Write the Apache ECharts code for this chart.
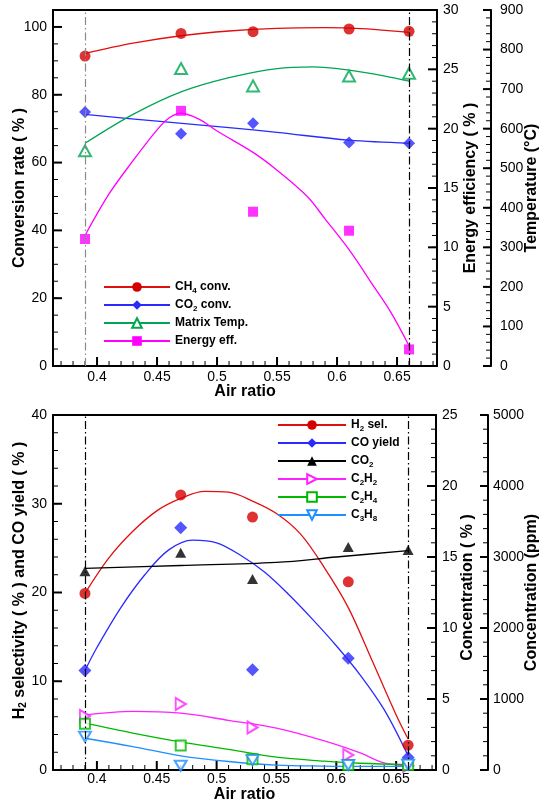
<!DOCTYPE html>
<html>
<head>
<meta charset="utf-8">
<script src="https://cdn.jsdelivr.net/npm/echarts@6/dist/echarts.min.js"></script>
<style>
  html, body { margin: 0; padding: 0; background: #fff; }
  #chart { width: 542px; height: 808px; }
</style>
</head>
<body>
<div id="chart"></div>
<script>
// ---------- measured points ----------
const airRatio = [0.39, 0.47, 0.53, 0.61, 0.66];

// upper panel
const ch4Conv    = [91.4, 98.1, 98.6, 99.4, 98.7];   // %
const co2Conv    = [74.9, 68.5, 71.6, 65.9, 65.7];   // %
const matrixTemp = [544, 752, 708, 733, 740];        // °C
const energyEff  = [10.7, 21.5, 13.0, 11.4, 1.4];    // %

// lower panel
const h2Sel   = [19.9, 31.0, 28.5, 21.2, 2.8];       // %
const coYield = [11.2, 27.3, 11.3, 12.6, 1.4];       // %
const co2Conc = [14.0, 15.3, 13.45, 15.7, 15.5];     // %
const c2h2Ppm = [760, 930, 600, 210, 60];            // ppm
const c2h4Ppm = [650, 345, 150, 70, 70];             // ppm
const c3h8Ppm = [470, 60, 140, 70, 75];              // ppm

// ---------- fitted trend curves (x, y pairs) ----------
const ch4FitX = [0.39, 0.43, 0.47, 0.51, 0.55, 0.59, 0.62, 0.66];
const ch4FitY = [92.2, 95.2, 97.4, 98.8, 99.6, 99.8, 99.5, 98.4];
const co2FitX = [0.39, 0.45, 0.51, 0.55, 0.61, 0.66];
const co2FitY = [74.2, 72.2, 70.3, 68.9, 66.6, 65.7];
const tempFitX = [0.39, 0.43, 0.47, 0.51, 0.55, 0.58, 0.61, 0.64, 0.66];
const tempFitY = [563, 636, 693, 729, 752, 756, 748, 733, 720];
const effFitX = [0.39, 0.41, 0.43, 0.45, 0.46, 0.47, 0.485, 0.50, 0.53, 0.55, 0.575, 0.59, 0.61, 0.63, 0.645, 0.66];
const effFitY = [11.0, 14.5, 17.3, 19.9, 20.9, 21.3, 20.8, 19.8, 18.0, 16.5, 14.3, 12.4, 9.8, 6.8, 4.5, 1.7];

const h2FitX = [0.39, 0.41, 0.43, 0.45, 0.47, 0.49, 0.51, 0.53, 0.55, 0.57, 0.59, 0.61, 0.63, 0.65, 0.66];
const h2FitY = [19.9, 23.9, 26.9, 29.2, 30.6, 31.4, 31.3, 30.3, 28.9, 26.6, 22.8, 18.3, 12.3, 6.2, 3.5];
const coFitX = [0.39, 0.40, 0.42, 0.44, 0.46, 0.48, 0.50, 0.52, 0.54, 0.56, 0.58, 0.60, 0.62, 0.64, 0.66];
const coFitY = [11.2, 13.8, 18.3, 22.0, 24.8, 25.9, 25.6, 24.2, 22.3, 19.8, 17.0, 14.0, 10.7, 6.8, 1.6];
const co2ConcFitX = [0.39, 0.47, 0.55, 0.60, 0.66];
const co2ConcFitY = [14.2, 14.4, 14.62, 15.0, 15.45];
const c2h2FitX = [0.39, 0.43, 0.47, 0.51, 0.55, 0.59, 0.62, 0.64, 0.66];
const c2h2FitY = [775, 825, 800, 700, 590, 410, 240, 100, 60];
const c2h4FitX = [0.39, 0.43, 0.47, 0.51, 0.55, 0.59, 0.62, 0.66];
const c2h4FitY = [660, 520, 395, 290, 180, 125, 95, 75];
const c3h8FitX = [0.39, 0.43, 0.47, 0.51, 0.55, 0.59, 0.62, 0.66];
const c3h8FitY = [447, 330, 200, 120, 70, 55, 50, 50];

// ---------- axis ticks ----------
const xMajorTicks = [0.4, 0.45, 0.5, 0.55, 0.6, 0.65];
const xMinorTicks = [0.37, 0.38, 0.39, 0.41, 0.42, 0.43, 0.44, 0.46, 0.47, 0.48, 0.49,
                     0.51, 0.52, 0.53, 0.54, 0.56, 0.57, 0.58, 0.59, 0.61, 0.62, 0.63,
                     0.64, 0.66, 0.67, 0.68];
const xRange = [0.3633, 0.6833];

// ---------- styling helpers ----------
const FONT = '"Liberation Sans", Arial, sans-serif';
const nameStyle = {
  fontFamily: FONT, fontWeight: 'bold', fontSize: 16, color: '#000',
  rich: {
    t: { fontFamily: FONT, fontWeight: 'bold', fontSize: 16, color: '#000' },
    s: { fontFamily: FONT, fontWeight: 'bold', fontSize: 10, color: '#000', verticalAlign: 'bottom', lineHeight: 12 }
  }
};

function steps(from, to, step) {
  const out = [];
  const n = Math.round((to - from) / step);
  for (let i = 0; i <= n; i++) out.push(+(from + i * step).toFixed(6));
  return out;
}

function xAxisMain(gridIndex, labelMargin, nameGap) {
  return {
    type: 'value', gridIndex, min: xRange[0], max: xRange[1], position: 'bottom',
    name: 'Air ratio', nameLocation: 'middle', nameGap, nameMoveOverlap: false,
    nameTextStyle: nameStyle,
    axisLine: { show: true, onZero: false, lineStyle: { color: '#000', width: 2 } },
    axisTick: { show: false },
    axisLabel: { show: true, customValues: xMajorTicks, margin: labelMargin,
                 fontFamily: FONT, fontSize: 14, color: '#000', formatter: v => String(v) },
    splitLine: { show: false }
  };
}

// plain line closing the top of each frame
function frameTop(gridIndex) {
  return {
    type: 'value', gridIndex, min: xRange[0], max: xRange[1], position: 'top',
    axisLine: { show: true, onZero: false, lineStyle: { color: '#000', width: 2 } },
    axisTick: { show: false }, axisLabel: { show: false }, splitLine: { show: false }
  };
}

function yAxisMain(o) {
  return {
    type: 'value', gridIndex: o.grid, position: o.position, offset: o.offset || 0,
    min: o.min, max: o.max, interval: o.interval, splitLine: { show: false },
    name: o.name, nameLocation: 'middle', nameGap: o.nameGap, nameMoveOverlap: false,
    nameTextStyle: Object.assign({}, nameStyle, o.namePadding ? { padding: o.namePadding } : {}),
    axisLine: { show: true, onZero: false, lineStyle: { color: '#000', width: 2 } },
    axisTick: { show: false },
    axisLabel: { show: true, margin: o.labelMargin, fontFamily: FONT, fontSize: 14, color: '#000',
                 showMaxLabel: o.hideMax ? false : null, formatter: v => String(v) }
  };
}

// inward tick marks, placed through the axes' own coordinate mapping
// side: 'bottom' (x ticks), 'left' or 'right' (y ticks); shift = axis offset in px
function tickMarks(xIdx, yIdx, side, values, len, width, shift, anchor) {
  const data = side === 'bottom' ? values.map(v => [v, anchor]) : values.map(v => [anchor, v]);
  return {
    type: 'custom', xAxisIndex: xIdx, yAxisIndex: yIdx, data, silent: true, z: 1, clip: false,
    renderItem(params, api) {
      const p = api.coord([api.value(0), api.value(1)]);
      let shape;
      if (side === 'bottom') shape = { x1: p[0], y1: p[1], x2: p[0], y2: p[1] - len };
      else if (side === 'left') shape = { x1: p[0], y1: p[1], x2: p[0] + len, y2: p[1] };
      else shape = { x1: p[0] + shift, y1: p[1], x2: p[0] + shift - len, y2: p[1] };
      return { type: 'line', shape, style: { stroke: '#000', lineWidth: width } };
    }
  };
}

function pts(ys) { return airRatio.map((x, i) => [x, ys[i]]); }
function curve(xs, ys) { return xs.map((x, i) => [x, ys[i]]); }

// one fitted curve (carries the legend entry) plus its measured markers
function seriesPair(name, fit, values, xIdx, yIdx, s, extra) {
  const itemStyle = s.hollow
    ? { color: '#fff', borderColor: s.color, borderWidth: 2 }
    : { color: s.color, borderWidth: 0 };
  const line = Object.assign({
    type: 'line', name, xAxisIndex: xIdx, yAxisIndex: yIdx, data: fit,
    smooth: 0.35, showSymbol: false, symbol: s.symbol, symbolRotate: s.rotate || 0,
    lineStyle: { color: s.line || s.color, width: 1.3 }, itemStyle, silent: true, z: 2
  }, extra || {});
  const scatter = {
    type: 'scatter', xAxisIndex: xIdx, yAxisIndex: yIdx, data: pts(values),
    symbol: s.symbol, symbolSize: s.size, symbolRotate: s.rotate || 0,
    itemStyle, silent: true, z: 3
  };
  return [line, scatter];
}

function dashDot(x, color) {
  return { xAxis: x, lineStyle: { color, type: [8, 3, 1.5, 3], width: 1.2 } };
}

const legendText = {
  'CH4 conv.': '{n|CH}{s|4}{n| conv.}',
  'CO2 conv.': '{n|CO}{s|2}{n| conv.}',
  'Matrix Temp.': '{n|Matrix Temp.}',
  'Energy eff.': '{n|Energy eff.}',
  'H2 sel.': '{n|H}{s|2}{n| sel.}',
  'CO yield': '{n|CO yield}',
  'CO2': '{n|CO}{s|2}',
  'C2H2': '{n|C}{s|2}{n|H}{s|2}',
  'C2H4': '{n|C}{s|2}{n|H}{s|4}',
  'C3H8': '{n|C}{s|3}{n|H}{s|8}'
};
const legendTextStyle = {
  fontFamily: FONT, fontWeight: 'bold', fontSize: 12, color: '#000', lineHeight: 16,
  rich: {
    n: { fontFamily: FONT, fontWeight: 'bold', fontSize: 12, color: '#000', lineHeight: 16 },
    s: { fontFamily: FONT, fontWeight: 'bold', fontSize: 8, color: '#000', lineHeight: 9, verticalAlign: 'bottom' }
  }
};

const RED = '#d40000', BLUE = '#2a2aff', GREEN = '#00a651', MAGENTA = '#ff00ff';
const GREEN2 = '#00b800', SKY = '#1e8fff', PINK = '#ff22ff';

// axis index map: xAxis 0 = upper, 1 = lower; yAxis 0 conv, 1 energy, 2 temp, 3 H2/CO, 4 conc %, 5 ppm
const chart = echarts.init(document.getElementById('chart'), null, { renderer: 'canvas' });

const series = [].concat(
  // upper panel
  seriesPair('CH4 conv.', curve(ch4FitX, ch4FitY), ch4Conv, 0, 0,
    { symbol: 'circle', size: 11, color: RED, line: '#e01010' },
    { markLine: { symbol: 'none', silent: true, label: { show: false },
                  data: [dashDot(airRatio[0], '#8a8a8a'), dashDot(airRatio[4], '#000')] } }),
  seriesPair('CO2 conv.', curve(co2FitX, co2FitY), co2Conv, 0, 0,
    { symbol: 'diamond', size: 12, color: BLUE }),
  seriesPair('Matrix Temp.', curve(tempFitX, tempFitY), matrixTemp, 0, 2,
    { symbol: 'triangle', size: [12, 11], color: GREEN, hollow: true }),
  seriesPair('Energy eff.', curve(effFitX, effFitY), energyEff, 0, 1,
    { symbol: 'rect', size: 10, color: MAGENTA }),
  // lower panel
  seriesPair('H2 sel.', curve(h2FitX, h2FitY), h2Sel, 1, 3,
    { symbol: 'circle', size: 11, color: RED, line: '#e01010' },
    { markLine: { symbol: 'none', silent: true, label: { show: false },
                  data: [dashDot(airRatio[0], '#000'), dashDot(airRatio[4], '#000')] } }),
  seriesPair('CO yield', curve(coFitX, coFitY), coYield, 1, 3,
    { symbol: 'diamond', size: 13, color: BLUE }),
  seriesPair('CO2', curve(co2ConcFitX, co2ConcFitY), co2Conc, 1, 4,
    { symbol: 'triangle', size: [11, 10], color: '#000' }),
  seriesPair('C2H2', curve(c2h2FitX, c2h2FitY), c2h2Ppm, 1, 5,
    { symbol: 'triangle', size: [12, 10], rotate: -90, color: PINK, hollow: true }),
  seriesPair('C2H4', curve(c2h4FitX, c2h4FitY), c2h4Ppm, 1, 5,
    { symbol: 'rect', size: 10, color: GREEN2, hollow: true }),
  seriesPair('C3H8', curve(c3h8FitX, c3h8FitY), c3h8Ppm, 1, 5,
    { symbol: 'triangle', size: [12, 10], rotate: 180, color: SKY, hollow: true }),

  // tick marks — upper panel
  tickMarks(0, 0, 'bottom', xMajorTicks, 9, 2, 0, 0),
  tickMarks(0, 0, 'bottom', xMinorTicks, 5, 1, 0, 0),
  tickMarks(0, 0, 'left', steps(0, 100, 20), 9, 2, 0, xRange[0]),
  tickMarks(0, 0, 'left', steps(0, 105, 5), 5, 1, 0, xRange[0]),
  tickMarks(0, 1, 'right', steps(0, 30, 5), 9, 2, 0, xRange[1]),
  tickMarks(0, 1, 'right', steps(0, 30, 1), 5, 1, 0, xRange[1]),
  tickMarks(0, 2, 'right', steps(0, 900, 100), 8, 2, 54, xRange[1]),
  tickMarks(0, 2, 'right', steps(0, 900, 20), 5, 1, 54, xRange[1]),
  // tick marks — lower panel
  tickMarks(1, 3, 'bottom', xMajorTicks, 9, 2, 0, 0),
  tickMarks(1, 3, 'bottom', xMinorTicks, 5, 1, 0, 0),
  tickMarks(1, 3, 'left', steps(0, 40, 10), 9, 2, 0, xRange[0]),
  tickMarks(1, 3, 'left', steps(0, 40, 2), 5, 1, 0, xRange[0]),
  tickMarks(1, 4, 'right', steps(0, 25, 5), 9, 2, 0, xRange[1]),
  tickMarks(1, 4, 'right', steps(0, 25, 1), 5, 1, 0, xRange[1]),
  tickMarks(1, 5, 'right', steps(0, 5000, 1000), 8, 2, 52, xRange[1]),
  tickMarks(1, 5, 'right', steps(0, 5000, 200), 5, 1, 52, xRange[1])
);

chart.setOption({
  animation: false,
  backgroundColor: '#fff',
  textStyle: { fontFamily: FONT },
  grid: [
    { left: 53, top: 10, width: 384, height: 356, outerBoundsMode: 'none', containLabel: false },
    { left: 53, top: 415, width: 383, height: 355, outerBoundsMode: 'none', containLabel: false }
  ],
  xAxis: [xAxisMain(0, 4, 18), xAxisMain(1, 2, 17), frameTop(0), frameTop(1)],
  yAxis: [
    yAxisMain({ grid: 0, position: 'left', min: 0, max: 105, interval: 20, hideMax: true,
                name: 'Conversion rate ( % )', nameGap: 25, labelMargin: 6 }),
    yAxisMain({ grid: 0, position: 'right', min: 0, max: 30, interval: 5,
                name: 'Energy efficiency ( % )', nameGap: 26, labelMargin: 6 }),
    yAxisMain({ grid: 0, position: 'right', offset: 54, min: 0, max: 900, interval: 100,
                name: 'Temperature (°C)', nameGap: 33, labelMargin: 9 }),
    yAxisMain({ grid: 1, position: 'left', min: 0, max: 40, interval: 10,
                name: '{t|H}{s|2}{t| selectivity ( % ) and CO yield ( % )}', nameGap: 25, labelMargin: 6,
                namePadding: [0, 0, 0, 24] }),
    yAxisMain({ grid: 1, position: 'right', min: 0, max: 25, interval: 5,
                name: 'Concentration ( % )', nameGap: 24, labelMargin: 6, namePadding: [0, 0, 0, 10] }),
    yAxisMain({ grid: 1, position: 'right', offset: 52, min: 0, max: 5000, interval: 1000,
                name: 'Concentration (ppm)', nameGap: 36, labelMargin: 5 })
  ],
  legend: [
    {
      orient: 'vertical', left: 103, top: 279, padding: 0, itemWidth: 66, itemHeight: 12, itemGap: 2,
      data: ['CH4 conv.', 'CO2 conv.', 'Matrix Temp.', 'Energy eff.'],
      formatter: n => legendText[n], textStyle: legendTextStyle, selectedMode: false
    },
    {
      orient: 'vertical', left: 277, top: 417, padding: 0, itemWidth: 68, itemHeight: 12, itemGap: 2,
      data: ['H2 sel.', 'CO yield', 'CO2', 'C2H2', 'C2H4', 'C3H8'],
      formatter: n => legendText[n], textStyle: legendTextStyle, selectedMode: false
    }
  ],
  series
});
</script>
</body>
</html>
